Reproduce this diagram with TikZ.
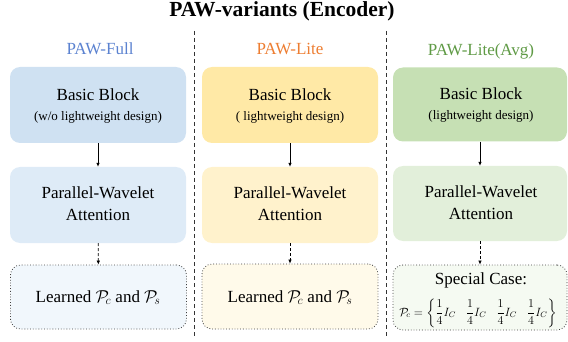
\documentclass[tikz,border=0pt]{standalone}
\usepackage{amsmath}
\usepackage{fontspec}
\setmainfont{Liberation Serif}
\usetikzlibrary{arrows.meta}
\definecolor{tblue}{HTML}{5B82D0}
\definecolor{torange}{HTML}{ED7D31}
\definecolor{tgreen}{HTML}{5F9A45}
\definecolor{bA1}{HTML}{CFE1F2}
\definecolor{bA2}{HTML}{DEEBF7}
\definecolor{bA3}{HTML}{F1F7FC}
\definecolor{bB1}{HTML}{FFE9A6}
\definecolor{bB2}{HTML}{FFF2CC}
\definecolor{bB3}{HTML}{FFFAEA}
\definecolor{bC1}{HTML}{C6E0B4}
\definecolor{bC2}{HTML}{E2EFDA}
\definecolor{bC3}{HTML}{F5FAF2}
\begin{document}
\begin{tikzpicture}[x=1pt,y=-1pt,
  blk/.style={rounded corners=10pt,minimum width=176pt,inner sep=0pt},
  botblk/.style={blk,draw=black!75,dotted,line width=0.8pt},
  txt/.style={anchor=base,inner sep=0pt,font=\fontsize{17}{20}\selectfont},
  sub/.style={anchor=base,inner sep=0pt,font=\fontsize{13}{15}\selectfont},
  sep/.style={draw=black!80,line width=0.8pt,dash pattern=on 4pt off 3pt},
  solidarrow/.style={draw=black,line width=0.7pt,-{Latex[length=4pt,width=3.5pt]}},
  dasharrow/.style={solidarrow,dash pattern=on 3pt off 2pt}
]
\useasboundingbox (0,0) rectangle (568,342);
\node[anchor=base,inner sep=0pt,font=\bfseries\fontsize{21.5}{24}\selectfont] (title) at (282,17) {PAW-variants (Encoder)};
\coordinate (s1a) at (194,31); \coordinate (s1b) at (194,338);
\coordinate (s2a) at (386,31); \coordinate (s2b) at (386,338);
\draw[sep] (s1a) -- (s1b);
\draw[sep] (s2a) -- (s2b);

\node[txt,text=tblue] (l1) at (100,55) {PAW-Full};
\node[txt,text=torange] (l2) at (290,55) {PAW-Lite};
\node[txt,text=tgreen] (l3) at (481,56) {PAW-Lite(Avg)};

% column 1
\node[blk,fill=bA1,minimum height=76pt] (a1) at (98,105) {};
\node[blk,fill=bA2,minimum height=76pt] (a2) at (98,205) {};
\node[botblk,fill=bA3,minimum height=64pt] (a3) at (98.5,297) {};
% column 2
\node[blk,fill=bB1,minimum height=76pt] (b1) at (290,105) {};
\node[blk,fill=bB2,minimum height=76pt] (b2) at (290,205) {};
\node[botblk,fill=bB3,minimum height=65pt] (b3) at (290,296.5) {};
% column 3
\node[blk,fill=bC1,minimum width=174pt,minimum height=74pt] (c1) at (480,104.5) {};
\node[blk,fill=bC2,minimum width=174pt,minimum height=75pt] (c2) at (480,203.5) {};
\node[botblk,fill=bC3,minimum width=174pt,minimum height=65pt] (c3) at (480,297.5) {};

% texts
\node[txt] (a1t) at (98,101) {Basic Block};
\node[sub] (a1s) at (98,121) {(w/o lightweight design)};
\node[txt] (a2t) at (98,198) {Parallel-Wavelet};
\node[txt] (a2u) at (98,220) {Attention};
\node[txt] (a3t) at (98,302) {Learned $\mathcal{P}_{\!c}$ and $\mathcal{P}_{\!s}$};

\node[txt] (b1t) at (290,101) {Basic Block};
\node[sub] (b1s) at (290,121) {( lightweight design)};
\node[txt] (b2t) at (290,198) {Parallel-Wavelet};
\node[txt] (b2u) at (290,220) {Attention};
\node[txt] (b3t) at (290,302) {Learned $\mathcal{P}_{\!c}$ and $\mathcal{P}_{\!s}$};

\node[txt] (c1t) at (481,100) {Basic Block};
\node[sub] (c1s) at (481,120) {(lightweight design)};
\node[txt] (c2t) at (481,197) {Parallel-Wavelet};
\node[txt] (c2u) at (481,219) {Attention};
\node[txt] (c3t) at (481,284) {Special Case:};
\node[inner sep=0pt,font=\fontsize{12}{14}\selectfont] (c3f) at (478,313) {$\mathcal{P}_{\!c}=\left\{\dfrac{1}{4}I_C\;\;\;\dfrac{1}{4}I_C\;\;\;\dfrac{1}{4}I_C\;\;\;\dfrac{1}{4}I_C\right\}$};

\draw[solidarrow] (a1) -- (a2);
\draw[solidarrow] (b1) -- (b2);
\draw[solidarrow] (c1) -- (c2);
\draw[dasharrow] (a2) -- (a3);
\draw[dasharrow] (b2) -- (b3);
\draw[dasharrow] (c2) -- (c3);
\end{tikzpicture}
\end{document}
